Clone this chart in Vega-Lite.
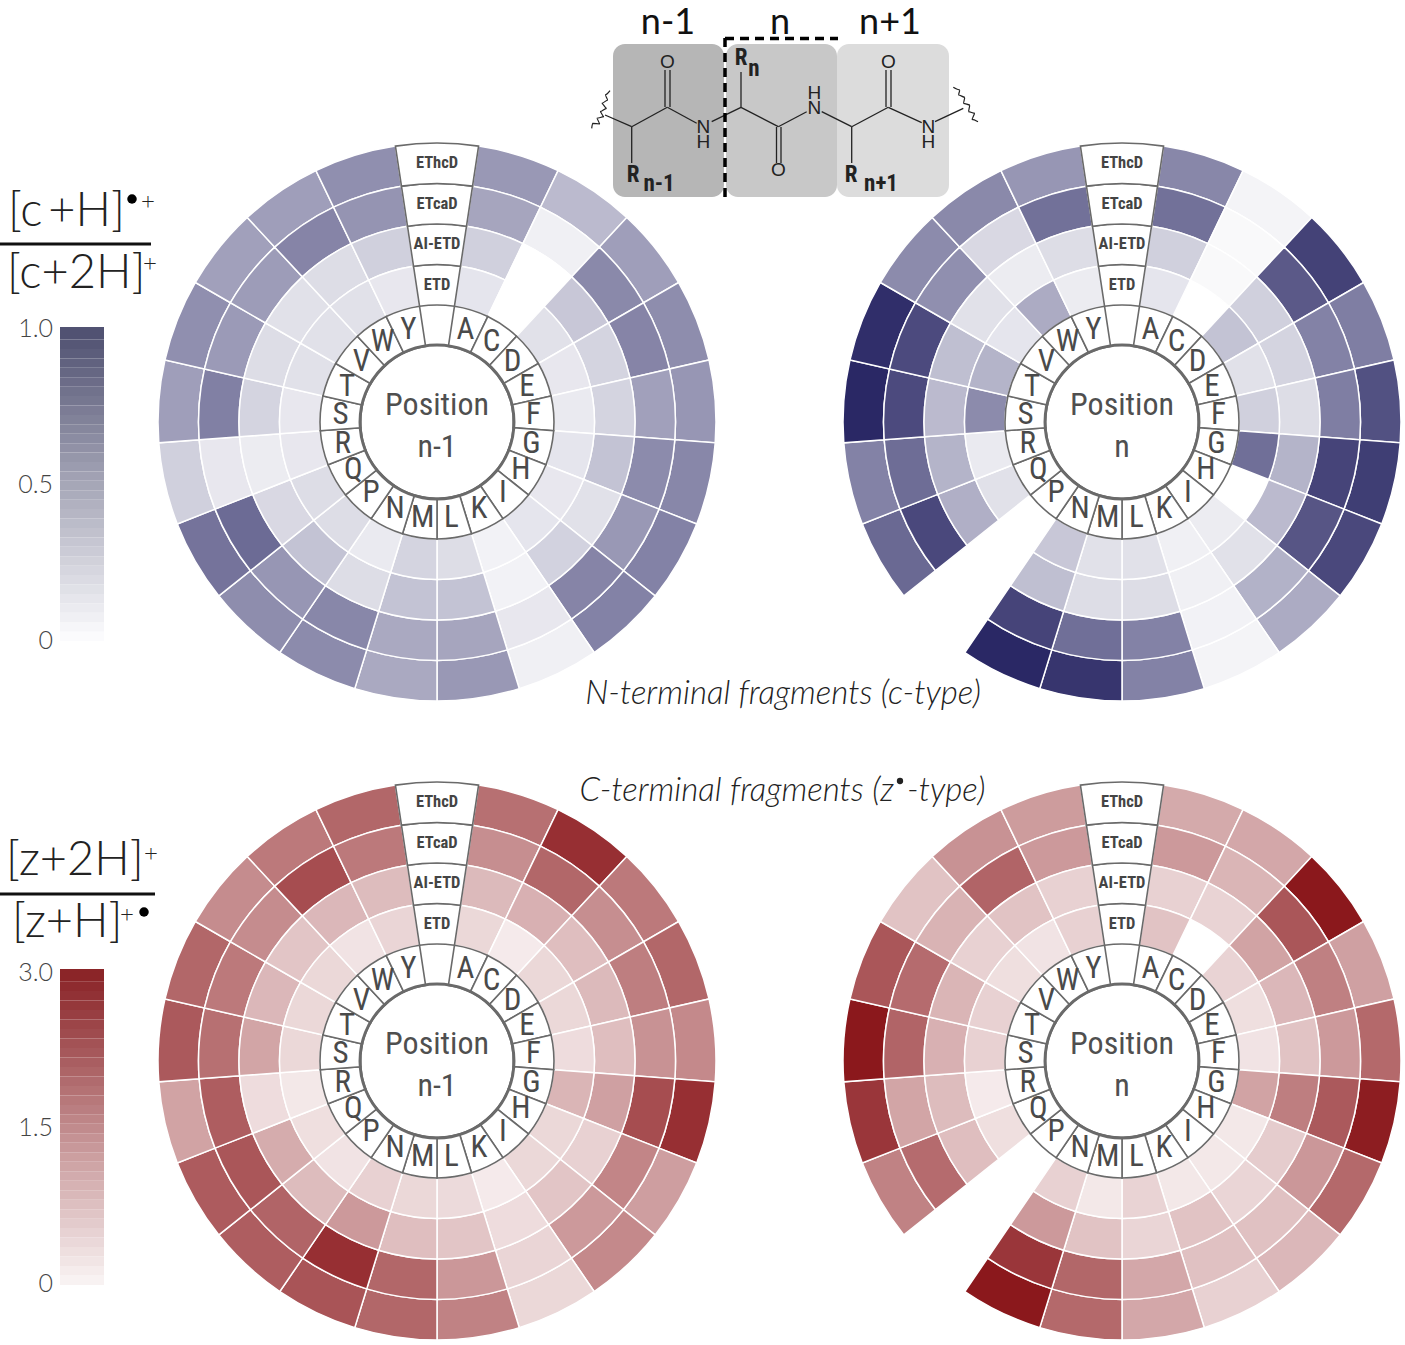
{
"$schema":"https://vega.github.io/schema/vega-lite/v6.json",
"width":1405,"height":1345,"padding":0,"autosize":"none","background":"white",
"config":{"view":{"stroke":null}},
"datasets":{
"cells":[
{"f":"c","pos":"n-1","aa":"A","ring":"EThcD","v":0.48},{"f":"c","pos":"n-1","aa":"A","ring":"ETcaD","v":0.42},{"f":"c","pos":"n-1","aa":"A","ring":"AI-ETD","v":0.22},{"f":"c","pos":"n-1","aa":"A","ring":"ETD","v":0.12},
{"f":"c","pos":"n-1","aa":"C","ring":"EThcD","v":0.32},{"f":"c","pos":"n-1","aa":"C","ring":"ETcaD","v":0.07},{"f":"c","pos":"n-1","aa":"C","ring":"AI-ETD","v":0},{"f":"c","pos":"n-1","aa":"C","ring":"ETD","v":0},
{"f":"c","pos":"n-1","aa":"D","ring":"EThcD","v":0.45},{"f":"c","pos":"n-1","aa":"D","ring":"ETcaD","v":0.55},{"f":"c","pos":"n-1","aa":"D","ring":"AI-ETD","v":0.26},{"f":"c","pos":"n-1","aa":"D","ring":"ETD","v":0.14},
{"f":"c","pos":"n-1","aa":"E","ring":"EThcD","v":0.53},{"f":"c","pos":"n-1","aa":"E","ring":"ETcaD","v":0.57},{"f":"c","pos":"n-1","aa":"E","ring":"AI-ETD","v":0.2},{"f":"c","pos":"n-1","aa":"E","ring":"ETD","v":0.11},
{"f":"c","pos":"n-1","aa":"F","ring":"EThcD","v":0.49},{"f":"c","pos":"n-1","aa":"F","ring":"ETcaD","v":0.44},{"f":"c","pos":"n-1","aa":"F","ring":"AI-ETD","v":0.2},{"f":"c","pos":"n-1","aa":"F","ring":"ETD","v":0.1},
{"f":"c","pos":"n-1","aa":"G","ring":"EThcD","v":0.56},{"f":"c","pos":"n-1","aa":"G","ring":"ETcaD","v":0.54},{"f":"c","pos":"n-1","aa":"G","ring":"AI-ETD","v":0.28},{"f":"c","pos":"n-1","aa":"G","ring":"ETD","v":0.12},
{"f":"c","pos":"n-1","aa":"H","ring":"EThcD","v":0.58},{"f":"c","pos":"n-1","aa":"H","ring":"ETcaD","v":0.48},{"f":"c","pos":"n-1","aa":"H","ring":"AI-ETD","v":0.14},{"f":"c","pos":"n-1","aa":"H","ring":"ETD","v":0.11},
{"f":"c","pos":"n-1","aa":"I","ring":"EThcD","v":0.58},{"f":"c","pos":"n-1","aa":"I","ring":"ETcaD","v":0.57},{"f":"c","pos":"n-1","aa":"I","ring":"AI-ETD","v":0.21},{"f":"c","pos":"n-1","aa":"I","ring":"ETD","v":0.12},
{"f":"c","pos":"n-1","aa":"K","ring":"EThcD","v":0.07},{"f":"c","pos":"n-1","aa":"K","ring":"ETcaD","v":0.11},{"f":"c","pos":"n-1","aa":"K","ring":"AI-ETD","v":0.06},{"f":"c","pos":"n-1","aa":"K","ring":"ETD","v":0.06},
{"f":"c","pos":"n-1","aa":"L","ring":"EThcD","v":0.48},{"f":"c","pos":"n-1","aa":"L","ring":"ETcaD","v":0.42},{"f":"c","pos":"n-1","aa":"L","ring":"AI-ETD","v":0.28},{"f":"c","pos":"n-1","aa":"L","ring":"ETD","v":0.16},
{"f":"c","pos":"n-1","aa":"M","ring":"EThcD","v":0.4},{"f":"c","pos":"n-1","aa":"M","ring":"ETcaD","v":0.4},{"f":"c","pos":"n-1","aa":"M","ring":"AI-ETD","v":0.28},{"f":"c","pos":"n-1","aa":"M","ring":"ETD","v":0.2},
{"f":"c","pos":"n-1","aa":"N","ring":"EThcD","v":0.54},{"f":"c","pos":"n-1","aa":"N","ring":"ETcaD","v":0.56},{"f":"c","pos":"n-1","aa":"N","ring":"AI-ETD","v":0.16},{"f":"c","pos":"n-1","aa":"N","ring":"ETD","v":0.1},
{"f":"c","pos":"n-1","aa":"P","ring":"EThcD","v":0.53},{"f":"c","pos":"n-1","aa":"P","ring":"ETcaD","v":0.49},{"f":"c","pos":"n-1","aa":"P","ring":"AI-ETD","v":0.28},{"f":"c","pos":"n-1","aa":"P","ring":"ETD","v":0.16},
{"f":"c","pos":"n-1","aa":"Q","ring":"EThcD","v":0.65},{"f":"c","pos":"n-1","aa":"Q","ring":"ETcaD","v":0.69},{"f":"c","pos":"n-1","aa":"Q","ring":"AI-ETD","v":0.18},{"f":"c","pos":"n-1","aa":"Q","ring":"ETD","v":0.16},
{"f":"c","pos":"n-1","aa":"R","ring":"EThcD","v":0.22},{"f":"c","pos":"n-1","aa":"R","ring":"ETcaD","v":0.11},{"f":"c","pos":"n-1","aa":"R","ring":"AI-ETD","v":0.09},{"f":"c","pos":"n-1","aa":"R","ring":"ETD","v":0.11},
{"f":"c","pos":"n-1","aa":"S","ring":"EThcD","v":0.45},{"f":"c","pos":"n-1","aa":"S","ring":"ETcaD","v":0.59},{"f":"c","pos":"n-1","aa":"S","ring":"AI-ETD","v":0.2},{"f":"c","pos":"n-1","aa":"S","ring":"ETD","v":0.11},
{"f":"c","pos":"n-1","aa":"T","ring":"EThcD","v":0.52},{"f":"c","pos":"n-1","aa":"T","ring":"ETcaD","v":0.47},{"f":"c","pos":"n-1","aa":"T","ring":"AI-ETD","v":0.16},{"f":"c","pos":"n-1","aa":"T","ring":"ETD","v":0.14},
{"f":"c","pos":"n-1","aa":"V","ring":"EThcD","v":0.44},{"f":"c","pos":"n-1","aa":"V","ring":"ETcaD","v":0.46},{"f":"c","pos":"n-1","aa":"V","ring":"AI-ETD","v":0.14},{"f":"c","pos":"n-1","aa":"V","ring":"ETD","v":0.14},
{"f":"c","pos":"n-1","aa":"W","ring":"EThcD","v":0.45},{"f":"c","pos":"n-1","aa":"W","ring":"ETcaD","v":0.57},{"f":"c","pos":"n-1","aa":"W","ring":"AI-ETD","v":0.16},{"f":"c","pos":"n-1","aa":"W","ring":"ETD","v":0.14},
{"f":"c","pos":"n-1","aa":"Y","ring":"EThcD","v":0.52},{"f":"c","pos":"n-1","aa":"Y","ring":"ETcaD","v":0.5},{"f":"c","pos":"n-1","aa":"Y","ring":"AI-ETD","v":0.22},{"f":"c","pos":"n-1","aa":"Y","ring":"ETD","v":0.11},
{"f":"c","pos":"n","aa":"A","ring":"EThcD","v":0.56},{"f":"c","pos":"n","aa":"A","ring":"ETcaD","v":0.66},{"f":"c","pos":"n","aa":"A","ring":"AI-ETD","v":0.22},{"f":"c","pos":"n","aa":"A","ring":"ETD","v":0.12},
{"f":"c","pos":"n","aa":"C","ring":"EThcD","v":0.05},{"f":"c","pos":"n","aa":"C","ring":"ETcaD","v":0.03},{"f":"c","pos":"n","aa":"C","ring":"AI-ETD","v":0.03},
{"f":"c","pos":"n","aa":"D","ring":"EThcD","v":0.88},{"f":"c","pos":"n","aa":"D","ring":"ETcaD","v":0.77},{"f":"c","pos":"n","aa":"D","ring":"AI-ETD","v":0.22},{"f":"c","pos":"n","aa":"D","ring":"ETD","v":0.28},
{"f":"c","pos":"n","aa":"E","ring":"EThcD","v":0.6},{"f":"c","pos":"n","aa":"E","ring":"ETcaD","v":0.58},{"f":"c","pos":"n","aa":"E","ring":"AI-ETD","v":0.2},{"f":"c","pos":"n","aa":"E","ring":"ETD","v":0.14},
{"f":"c","pos":"n","aa":"F","ring":"EThcD","v":0.81},{"f":"c","pos":"n","aa":"F","ring":"ETcaD","v":0.6},{"f":"c","pos":"n","aa":"F","ring":"AI-ETD","v":0.16},{"f":"c","pos":"n","aa":"F","ring":"ETD","v":0.22},
{"f":"c","pos":"n","aa":"G","ring":"EThcD","v":0.9},{"f":"c","pos":"n","aa":"G","ring":"ETcaD","v":0.87},{"f":"c","pos":"n","aa":"G","ring":"AI-ETD","v":0.35},{"f":"c","pos":"n","aa":"G","ring":"ETD","v":0.67},
{"f":"c","pos":"n","aa":"H","ring":"EThcD","v":0.85},{"f":"c","pos":"n","aa":"H","ring":"ETcaD","v":0.79},{"f":"c","pos":"n","aa":"H","ring":"AI-ETD","v":0.32},
{"f":"c","pos":"n","aa":"I","ring":"EThcD","v":0.39},{"f":"c","pos":"n","aa":"I","ring":"ETcaD","v":0.36},{"f":"c","pos":"n","aa":"I","ring":"AI-ETD","v":0.14},{"f":"c","pos":"n","aa":"I","ring":"ETD","v":0.09},
{"f":"c","pos":"n","aa":"K","ring":"EThcD","v":0.05},{"f":"c","pos":"n","aa":"K","ring":"ETcaD","v":0.06},{"f":"c","pos":"n","aa":"K","ring":"AI-ETD","v":0.07},{"f":"c","pos":"n","aa":"K","ring":"ETD","v":0.07},
{"f":"c","pos":"n","aa":"L","ring":"EThcD","v":0.58},{"f":"c","pos":"n","aa":"L","ring":"ETcaD","v":0.58},{"f":"c","pos":"n","aa":"L","ring":"AI-ETD","v":0.16},{"f":"c","pos":"n","aa":"L","ring":"ETD","v":0.14},
{"f":"c","pos":"n","aa":"M","ring":"EThcD","v":0.94},{"f":"c","pos":"n","aa":"M","ring":"ETcaD","v":0.67},{"f":"c","pos":"n","aa":"M","ring":"AI-ETD","v":0.16},{"f":"c","pos":"n","aa":"M","ring":"ETD","v":0.14},
{"f":"c","pos":"n","aa":"N","ring":"EThcD","v":1},{"f":"c","pos":"n","aa":"N","ring":"ETcaD","v":0.87},{"f":"c","pos":"n","aa":"N","ring":"AI-ETD","v":0.3},{"f":"c","pos":"n","aa":"N","ring":"ETD","v":0.26},
{"f":"c","pos":"n","aa":"Q","ring":"EThcD","v":0.7},{"f":"c","pos":"n","aa":"Q","ring":"ETcaD","v":0.85},{"f":"c","pos":"n","aa":"Q","ring":"AI-ETD","v":0.37},{"f":"c","pos":"n","aa":"Q","ring":"ETD","v":0.14},
{"f":"c","pos":"n","aa":"R","ring":"EThcD","v":0.58},{"f":"c","pos":"n","aa":"R","ring":"ETcaD","v":0.68},{"f":"c","pos":"n","aa":"R","ring":"AI-ETD","v":0.35},{"f":"c","pos":"n","aa":"R","ring":"ETD","v":0.1},
{"f":"c","pos":"n","aa":"S","ring":"EThcD","v":1},{"f":"c","pos":"n","aa":"S","ring":"ETcaD","v":0.84},{"f":"c","pos":"n","aa":"S","ring":"AI-ETD","v":0.32},{"f":"c","pos":"n","aa":"S","ring":"ETD","v":0.54},
{"f":"c","pos":"n","aa":"T","ring":"EThcD","v":0.97},{"f":"c","pos":"n","aa":"T","ring":"ETcaD","v":0.84},{"f":"c","pos":"n","aa":"T","ring":"AI-ETD","v":0.3},{"f":"c","pos":"n","aa":"T","ring":"ETD","v":0.35},
{"f":"c","pos":"n","aa":"V","ring":"EThcD","v":0.54},{"f":"c","pos":"n","aa":"V","ring":"ETcaD","v":0.52},{"f":"c","pos":"n","aa":"V","ring":"AI-ETD","v":0.14},{"f":"c","pos":"n","aa":"V","ring":"ETD","v":0.12},
{"f":"c","pos":"n","aa":"W","ring":"EThcD","v":0.55},{"f":"c","pos":"n","aa":"W","ring":"ETcaD","v":0.18},{"f":"c","pos":"n","aa":"W","ring":"AI-ETD","v":0.09},{"f":"c","pos":"n","aa":"W","ring":"ETD","v":0.39},
{"f":"c","pos":"n","aa":"Y","ring":"EThcD","v":0.49},{"f":"c","pos":"n","aa":"Y","ring":"ETcaD","v":0.66},{"f":"c","pos":"n","aa":"Y","ring":"AI-ETD","v":0.16},{"f":"c","pos":"n","aa":"Y","ring":"ETD","v":0.09},
{"f":"z","pos":"n-1","aa":"A","ring":"EThcD","v":1.86},{"f":"z","pos":"n-1","aa":"A","ring":"ETcaD","v":1.47},{"f":"z","pos":"n-1","aa":"A","ring":"AI-ETD","v":0.9},{"f":"z","pos":"n-1","aa":"A","ring":"ETD","v":0.51},
{"f":"z","pos":"n-1","aa":"C","ring":"EThcD","v":2.7},{"f":"z","pos":"n-1","aa":"C","ring":"ETcaD","v":1.98},{"f":"z","pos":"n-1","aa":"C","ring":"AI-ETD","v":1.02},{"f":"z","pos":"n-1","aa":"C","ring":"ETD","v":0.27},
{"f":"z","pos":"n-1","aa":"D","ring":"EThcD","v":1.74},{"f":"z","pos":"n-1","aa":"D","ring":"ETcaD","v":1.47},{"f":"z","pos":"n-1","aa":"D","ring":"AI-ETD","v":0.84},{"f":"z","pos":"n-1","aa":"D","ring":"ETD","v":0.51},
{"f":"z","pos":"n-1","aa":"E","ring":"EThcD","v":1.98},{"f":"z","pos":"n-1","aa":"E","ring":"ETcaD","v":1.68},{"f":"z","pos":"n-1","aa":"E","ring":"AI-ETD","v":0.9},{"f":"z","pos":"n-1","aa":"E","ring":"ETD","v":0.51},
{"f":"z","pos":"n-1","aa":"F","ring":"EThcD","v":1.53},{"f":"z","pos":"n-1","aa":"F","ring":"ETcaD","v":1.41},{"f":"z","pos":"n-1","aa":"F","ring":"AI-ETD","v":0.84},{"f":"z","pos":"n-1","aa":"F","ring":"ETD","v":0.45},
{"f":"z","pos":"n-1","aa":"G","ring":"EThcD","v":2.7},{"f":"z","pos":"n-1","aa":"G","ring":"ETcaD","v":2.31},{"f":"z","pos":"n-1","aa":"G","ring":"AI-ETD","v":1.23},{"f":"z","pos":"n-1","aa":"G","ring":"ETD","v":0.96},
{"f":"z","pos":"n-1","aa":"H","ring":"EThcD","v":1.26},{"f":"z","pos":"n-1","aa":"H","ring":"ETcaD","v":1.59},{"f":"z","pos":"n-1","aa":"H","ring":"AI-ETD","v":0.6},{"f":"z","pos":"n-1","aa":"H","ring":"ETD","v":0.51},
{"f":"z","pos":"n-1","aa":"I","ring":"EThcD","v":1.53},{"f":"z","pos":"n-1","aa":"I","ring":"ETcaD","v":1.32},{"f":"z","pos":"n-1","aa":"I","ring":"AI-ETD","v":0.75},{"f":"z","pos":"n-1","aa":"I","ring":"ETD","v":0.51},
{"f":"z","pos":"n-1","aa":"K","ring":"EThcD","v":0.51},{"f":"z","pos":"n-1","aa":"K","ring":"ETcaD","v":0.54},{"f":"z","pos":"n-1","aa":"K","ring":"AI-ETD","v":0.45},{"f":"z","pos":"n-1","aa":"K","ring":"ETD","v":0.27},
{"f":"z","pos":"n-1","aa":"L","ring":"EThcD","v":1.62},{"f":"z","pos":"n-1","aa":"L","ring":"ETcaD","v":1.35},{"f":"z","pos":"n-1","aa":"L","ring":"AI-ETD","v":0.75},{"f":"z","pos":"n-1","aa":"L","ring":"ETD","v":0.48},
{"f":"z","pos":"n-1","aa":"M","ring":"EThcD","v":1.98},{"f":"z","pos":"n-1","aa":"M","ring":"ETcaD","v":1.98},{"f":"z","pos":"n-1","aa":"M","ring":"AI-ETD","v":0.84},{"f":"z","pos":"n-1","aa":"M","ring":"ETD","v":0.51},
{"f":"z","pos":"n-1","aa":"N","ring":"EThcD","v":2.22},{"f":"z","pos":"n-1","aa":"N","ring":"ETcaD","v":2.7},{"f":"z","pos":"n-1","aa":"N","ring":"AI-ETD","v":1.32},{"f":"z","pos":"n-1","aa":"N","ring":"ETD","v":0.6},
{"f":"z","pos":"n-1","aa":"P","ring":"EThcD","v":2.1},{"f":"z","pos":"n-1","aa":"P","ring":"ETcaD","v":2.01},{"f":"z","pos":"n-1","aa":"P","ring":"AI-ETD","v":0.87},{"f":"z","pos":"n-1","aa":"P","ring":"ETD","v":0.36},
{"f":"z","pos":"n-1","aa":"Q","ring":"EThcD","v":2.13},{"f":"z","pos":"n-1","aa":"Q","ring":"ETcaD","v":2.19},{"f":"z","pos":"n-1","aa":"Q","ring":"AI-ETD","v":1.08},{"f":"z","pos":"n-1","aa":"Q","ring":"ETD","v":0.42},
{"f":"z","pos":"n-1","aa":"R","ring":"EThcD","v":1.2},{"f":"z","pos":"n-1","aa":"R","ring":"ETcaD","v":2.1},{"f":"z","pos":"n-1","aa":"R","ring":"AI-ETD","v":0.45},{"f":"z","pos":"n-1","aa":"R","ring":"ETD","v":0.3},
{"f":"z","pos":"n-1","aa":"S","ring":"EThcD","v":2.16},{"f":"z","pos":"n-1","aa":"S","ring":"ETcaD","v":1.86},{"f":"z","pos":"n-1","aa":"S","ring":"AI-ETD","v":1.17},{"f":"z","pos":"n-1","aa":"S","ring":"ETD","v":0.51},
{"f":"z","pos":"n-1","aa":"T","ring":"EThcD","v":1.98},{"f":"z","pos":"n-1","aa":"T","ring":"ETcaD","v":1.74},{"f":"z","pos":"n-1","aa":"T","ring":"AI-ETD","v":0.93},{"f":"z","pos":"n-1","aa":"T","ring":"ETD","v":0.51},
{"f":"z","pos":"n-1","aa":"V","ring":"EThcD","v":1.5},{"f":"z","pos":"n-1","aa":"V","ring":"ETcaD","v":1.5},{"f":"z","pos":"n-1","aa":"V","ring":"AI-ETD","v":0.75},{"f":"z","pos":"n-1","aa":"V","ring":"ETD","v":0.51},
{"f":"z","pos":"n-1","aa":"W","ring":"EThcD","v":1.74},{"f":"z","pos":"n-1","aa":"W","ring":"ETcaD","v":2.31},{"f":"z","pos":"n-1","aa":"W","ring":"AI-ETD","v":0.93},{"f":"z","pos":"n-1","aa":"W","ring":"ETD","v":0.36},
{"f":"z","pos":"n-1","aa":"Y","ring":"EThcD","v":1.98},{"f":"z","pos":"n-1","aa":"Y","ring":"ETcaD","v":1.74},{"f":"z","pos":"n-1","aa":"Y","ring":"AI-ETD","v":0.87},{"f":"z","pos":"n-1","aa":"Y","ring":"ETD","v":0.54},
{"f":"z","pos":"n","aa":"A","ring":"EThcD","v":1.11},{"f":"z","pos":"n","aa":"A","ring":"ETcaD","v":1.32},{"f":"z","pos":"n","aa":"A","ring":"AI-ETD","v":0.6},{"f":"z","pos":"n","aa":"A","ring":"ETD","v":0.78},
{"f":"z","pos":"n","aa":"C","ring":"EThcD","v":1.14},{"f":"z","pos":"n","aa":"C","ring":"ETcaD","v":0.96},{"f":"z","pos":"n","aa":"C","ring":"AI-ETD","v":0.57},
{"f":"z","pos":"n","aa":"D","ring":"EThcD","v":3},{"f":"z","pos":"n","aa":"D","ring":"ETcaD","v":2.19},{"f":"z","pos":"n","aa":"D","ring":"AI-ETD","v":1.2},{"f":"z","pos":"n","aa":"D","ring":"ETD","v":0.57},
{"f":"z","pos":"n","aa":"E","ring":"EThcD","v":1.23},{"f":"z","pos":"n","aa":"E","ring":"ETcaD","v":1.65},{"f":"z","pos":"n","aa":"E","ring":"AI-ETD","v":0.93},{"f":"z","pos":"n","aa":"E","ring":"ETD","v":0.42},
{"f":"z","pos":"n","aa":"F","ring":"EThcD","v":1.95},{"f":"z","pos":"n","aa":"F","ring":"ETcaD","v":1.32},{"f":"z","pos":"n","aa":"F","ring":"AI-ETD","v":0.78},{"f":"z","pos":"n","aa":"F","ring":"ETD","v":0.36},
{"f":"z","pos":"n","aa":"G","ring":"EThcD","v":2.94},{"f":"z","pos":"n","aa":"G","ring":"ETcaD","v":2.16},{"f":"z","pos":"n","aa":"G","ring":"AI-ETD","v":1.68},{"f":"z","pos":"n","aa":"G","ring":"ETD","v":1.2},
{"f":"z","pos":"n","aa":"H","ring":"EThcD","v":1.95},{"f":"z","pos":"n","aa":"H","ring":"ETcaD","v":1.35},{"f":"z","pos":"n","aa":"H","ring":"AI-ETD","v":0.66},{"f":"z","pos":"n","aa":"H","ring":"ETD","v":0.3},
{"f":"z","pos":"n","aa":"I","ring":"EThcD","v":0.93},{"f":"z","pos":"n","aa":"I","ring":"ETcaD","v":0.81},{"f":"z","pos":"n","aa":"I","ring":"AI-ETD","v":0.54},{"f":"z","pos":"n","aa":"I","ring":"ETD","v":0.3},
{"f":"z","pos":"n","aa":"K","ring":"EThcD","v":0.6},{"f":"z","pos":"n","aa":"K","ring":"ETcaD","v":0.81},{"f":"z","pos":"n","aa":"K","ring":"AI-ETD","v":0.78},{"f":"z","pos":"n","aa":"K","ring":"ETD","v":0.3},
{"f":"z","pos":"n","aa":"L","ring":"EThcD","v":1.14},{"f":"z","pos":"n","aa":"L","ring":"ETcaD","v":1.14},{"f":"z","pos":"n","aa":"L","ring":"AI-ETD","v":0.54},{"f":"z","pos":"n","aa":"L","ring":"ETD","v":0.57},
{"f":"z","pos":"n","aa":"M","ring":"EThcD","v":1.95},{"f":"z","pos":"n","aa":"M","ring":"ETcaD","v":1.98},{"f":"z","pos":"n","aa":"M","ring":"AI-ETD","v":0.78},{"f":"z","pos":"n","aa":"M","ring":"ETD","v":0.3},
{"f":"z","pos":"n","aa":"N","ring":"EThcD","v":3},{"f":"z","pos":"n","aa":"N","ring":"ETcaD","v":2.61},{"f":"z","pos":"n","aa":"N","ring":"AI-ETD","v":1.32},{"f":"z","pos":"n","aa":"N","ring":"ETD","v":0.6},
{"f":"z","pos":"n","aa":"Q","ring":"EThcD","v":1.62},{"f":"z","pos":"n","aa":"Q","ring":"ETcaD","v":1.92},{"f":"z","pos":"n","aa":"Q","ring":"AI-ETD","v":0.84},{"f":"z","pos":"n","aa":"Q","ring":"ETD","v":0.42},
{"f":"z","pos":"n","aa":"R","ring":"EThcD","v":2.61},{"f":"z","pos":"n","aa":"R","ring":"ETcaD","v":1.17},{"f":"z","pos":"n","aa":"R","ring":"AI-ETD","v":0.87},{"f":"z","pos":"n","aa":"R","ring":"ETD","v":0.27},
{"f":"z","pos":"n","aa":"S","ring":"EThcD","v":3},{"f":"z","pos":"n","aa":"S","ring":"ETcaD","v":2.01},{"f":"z","pos":"n","aa":"S","ring":"AI-ETD","v":1.02},{"f":"z","pos":"n","aa":"S","ring":"ETD","v":0.6},
{"f":"z","pos":"n","aa":"T","ring":"EThcD","v":2.19},{"f":"z","pos":"n","aa":"T","ring":"ETcaD","v":1.92},{"f":"z","pos":"n","aa":"T","ring":"AI-ETD","v":0.96},{"f":"z","pos":"n","aa":"T","ring":"ETD","v":0.6},
{"f":"z","pos":"n","aa":"V","ring":"EThcD","v":0.78},{"f":"z","pos":"n","aa":"V","ring":"ETcaD","v":0.99},{"f":"z","pos":"n","aa":"V","ring":"AI-ETD","v":0.6},{"f":"z","pos":"n","aa":"V","ring":"ETD","v":0.42},
{"f":"z","pos":"n","aa":"W","ring":"EThcD","v":1.41},{"f":"z","pos":"n","aa":"W","ring":"ETcaD","v":2.01},{"f":"z","pos":"n","aa":"W","ring":"AI-ETD","v":0.78},{"f":"z","pos":"n","aa":"W","ring":"ETD","v":0.36},
{"f":"z","pos":"n","aa":"Y","ring":"EThcD","v":1.29},{"f":"z","pos":"n","aa":"Y","ring":"ETcaD","v":1.32},{"f":"z","pos":"n","aa":"Y","ring":"AI-ETD","v":0.6},{"f":"z","pos":"n","aa":"Y","ring":"ETD","v":0.6}
],
"panels":[
{"f":"c","pos":"n-1","title":"Position\nn-1","aas":["A","C","D","E","F","G","H","I","K","L","M","N","P","Q","R","S","T","V","W","Y"],"rings":["ETD","AI-ETD","ETcaD","EThcD"]},
{"f":"c","pos":"n","title":"Position\nn","aas":["A","C","D","E","F","G","H","I","K","L","M","N","P","Q","R","S","T","V","W","Y"],"rings":["ETD","AI-ETD","ETcaD","EThcD"]},
{"f":"z","pos":"n-1","title":"Position\nn-1","aas":["A","C","D","E","F","G","H","I","K","L","M","N","P","Q","R","S","T","V","W","Y"],"rings":["ETD","AI-ETD","ETcaD","EThcD"]},
{"f":"z","pos":"n","title":"Position\nn","aas":["A","C","D","E","F","G","H","I","K","L","M","N","P","Q","R","S","T","V","W","Y"],"rings":["ETD","AI-ETD","ETcaD","EThcD"]}
],
"barC":[{"lo":0,"hi":0.03},{"lo":0.03,"hi":0.06},{"lo":0.06,"hi":0.09},{"lo":0.09,"hi":0.12},{"lo":0.12,"hi":0.15},{"lo":0.15,"hi":0.18},{"lo":0.18,"hi":0.21},{"lo":0.21,"hi":0.24},{"lo":0.24,"hi":0.27},{"lo":0.27,"hi":0.3},{"lo":0.3,"hi":0.33},{"lo":0.33,"hi":0.36},{"lo":0.36,"hi":0.39},{"lo":0.39,"hi":0.42},{"lo":0.42,"hi":0.45},{"lo":0.45,"hi":0.48},{"lo":0.48,"hi":0.51},{"lo":0.51,"hi":0.54},{"lo":0.54,"hi":0.57},{"lo":0.57,"hi":0.6},{"lo":0.6,"hi":0.63},{"lo":0.63,"hi":0.66},{"lo":0.66,"hi":0.69},{"lo":0.69,"hi":0.72},{"lo":0.72,"hi":0.75},{"lo":0.75,"hi":0.78},{"lo":0.78,"hi":0.81},{"lo":0.81,"hi":0.84},{"lo":0.84,"hi":0.87},{"lo":0.87,"hi":0.9},{"lo":0.9,"hi":0.93},{"lo":0.93,"hi":0.96},{"lo":0.96,"hi":1}],
"barZ":[{"lo":0,"hi":0.09},{"lo":0.09,"hi":0.18},{"lo":0.18,"hi":0.27},{"lo":0.27,"hi":0.36},{"lo":0.36,"hi":0.45},{"lo":0.45,"hi":0.54},{"lo":0.54,"hi":0.63},{"lo":0.63,"hi":0.72},{"lo":0.72,"hi":0.81},{"lo":0.81,"hi":0.9},{"lo":0.9,"hi":0.99},{"lo":0.99,"hi":1.08},{"lo":1.08,"hi":1.17},{"lo":1.17,"hi":1.26},{"lo":1.26,"hi":1.35},{"lo":1.35,"hi":1.44},{"lo":1.44,"hi":1.53},{"lo":1.53,"hi":1.62},{"lo":1.62,"hi":1.71},{"lo":1.71,"hi":1.8},{"lo":1.8,"hi":1.89},{"lo":1.89,"hi":1.98},{"lo":1.98,"hi":2.07},{"lo":2.07,"hi":2.16},{"lo":2.16,"hi":2.25},{"lo":2.25,"hi":2.34},{"lo":2.34,"hi":2.43},{"lo":2.43,"hi":2.52},{"lo":2.52,"hi":2.61},{"lo":2.61,"hi":2.7},{"lo":2.7,"hi":2.79},{"lo":2.79,"hi":2.88},{"lo":2.88,"hi":3}],
"boxes":[{"a":613,"b":724,"t":44,"u":197,"c":"n-1"},{"a":726,"b":837,"t":44,"u":197,"c":"n"},{"a":837,"b":949,"t":44,"u":197,"c":"n+1"}],
"bonds":[
{"a":605,"t":115,"b":631.7,"u":126.7},{"a":631.7,"t":126.7,"b":667.3,"u":107.3},{"a":667.3,"t":107.3,"b":696.7,"u":123.3},
{"a":711.7,"t":121.7,"b":741,"u":107.3},{"a":741,"t":107.3,"b":778.3,"u":126.7},{"a":778.3,"t":126.7,"b":806.7,"u":111.7},
{"a":821.7,"t":111.7,"b":851.7,"u":126.7},{"a":851.7,"t":126.7,"b":888.3,"u":107.3},{"a":888.3,"t":107.3,"b":921.7,"u":122.7},
{"a":935,"t":121.7,"b":963.3,"u":108.3},
{"a":631.7,"t":126.7,"b":631.7,"u":163},{"a":741,"t":107.3,"b":741,"u":72},{"a":851.7,"t":126.7,"b":851.7,"u":163},
{"a":665,"t":107,"b":665,"u":70},{"a":670,"t":107,"b":670,"u":70},
{"a":776.5,"t":127,"b":776.5,"u":163},{"a":781,"t":127,"b":781,"u":163},
{"a":886,"t":107,"b":886,"u":70},{"a":891,"t":107,"b":891,"u":70}
],
"dash":[{"a":725,"t":38,"b":725,"u":197},{"a":725,"t":38.5,"b":838,"u":38.5}],
"fracBars":[{"a":0,"t":244,"b":151,"u":244},{"a":0,"t":894,"b":155,"u":894}],
"wavy":[
{"w":"l","o":1,"a":610,"t":90.7},{"w":"l","o":2,"a":605,"t":95},{"w":"l","o":3,"a":608,"t":100},{"w":"l","o":4,"a":601.7,"t":103.3},{"w":"l","o":5,"a":606.7,"t":108.3},{"w":"l","o":6,"a":600,"t":111.7},{"w":"l","o":7,"a":604,"t":116.7},{"w":"l","o":8,"a":596.7,"t":118.3},{"w":"l","o":9,"a":600,"t":124},{"w":"l","o":10,"a":592.7,"t":123.3},{"w":"l","o":11,"a":591.7,"t":128.3},
{"w":"r","o":1,"a":953.3,"t":87.3},{"w":"r","o":2,"a":960,"t":90},{"w":"r","o":3,"a":958.3,"t":95},{"w":"r","o":4,"a":965,"t":97.3},{"w":"r","o":5,"a":963.3,"t":103.3},{"w":"r","o":6,"a":970,"t":105},{"w":"r","o":7,"a":968.3,"t":111.7},{"w":"r","o":8,"a":975,"t":113.3},{"w":"r","o":9,"a":971.7,"t":119.3},{"w":"r","o":10,"a":978,"t":121.7}
],
"atoms":[
{"a":703.3,"t":127,"s":"N\nH"},{"a":814.3,"t":93,"s":"H\nN"},{"a":928.3,"t":127,"s":"N\nH"},
{"a":667.3,"t":62,"s":"O"},{"a":778.3,"t":170,"s":"O"},{"a":888.3,"t":62,"s":"O"}
],
"rgroups":[
{"a":633,"t":175,"s":"R"},{"a":659,"t":184,"s":"n-1"},{"a":741,"t":58,"s":"R"},{"a":754,"t":69,"s":"n"},{"a":851,"t":175,"s":"R"},{"a":881,"t":184,"s":"n+1"}
],
"residues":[{"s":"n-1","a":668,"t":23},{"s":"n","a":780,"t":23},{"s":"n+1","a":890,"t":23}],
"big":[
{"a":8,"t":226,"s":"[c\u2009+H]"},{"a":7,"t":288,"s":"[c+2H]"},
{"a":6,"t":875,"s":"[z+2H]"},{"a":12,"t":937,"s":"[z+H]"}
],
"sup":[
{"a":148,"t":202,"s":"+"},{"a":150,"t":264,"s":"+"},{"a":151,"t":854,"s":"+"},{"a":127,"t":915,"s":"+"}
],
"dots":[{"a":132,"t":199},{"a":144,"t":912}],
"capDot":[{"a":900,"t":781}],
"ticks":[
{"a":53,"t":329,"s":"1.0"},{"a":53,"t":485,"s":"0.5"},{"a":53,"t":641,"s":"0"},
{"a":53,"t":973,"s":"3.0"},{"a":53,"t":1128,"s":"1.5"},{"a":53,"t":1284,"s":"0"}
],
"capN":[{"a":783,"t":694,"s":"N-terminal fragments (c-type)"}],
"capZl":[{"a":894,"t":791,"s":"C-terminal fragments (z"}],
"capZr":[{"a":907,"t":791,"s":"-type)"}]
},
"resolve":{"scale":{"x":"independent","y":"independent","color":"independent"}},
"layer":[
{"encoding":{
  "x":{"field":"pos","type":"nominal","scale":{"type":"point","domain":["n-1","n"],"range":[437,1122],"padding":0},"axis":null},
  "y":{"field":"f","type":"nominal","scale":{"type":"point","domain":["c","z"],"range":[422,1061],"padding":0},"axis":null}
 },
 "resolve":{"scale":{"color":"independent"}},
 "layer":[
 {"data":{"name":"cells"},"transform":[{"filter":"datum.f==='c'"}],
  "mark":{"type":"arc","stroke":"white","strokeWidth":1.5},
  "encoding":{
   "theta":{"field":"aa","type":"nominal","scale":{"type":"band","domain":["label","A","C","D","E","F","G","H","I","K","L","M","N","P","Q","R","S","T","V","W","Y"],"range":[-0.1496,6.1336],"padding":0}},
   "radius":{"field":"ring","type":"nominal","scale":{"type":"band","domain":["inner","res","ETD","AI-ETD","ETcaD","EThcD"],"range":[36,279],"padding":0}},
   "color":{"field":"v","type":"quantitative","scale":{"domain":[0,1],"range":["#ffffff","#2a2865"],"interpolate":"rgb"},"legend":null}
  }},
 {"data":{"name":"cells"},"transform":[{"filter":"datum.f==='z'"}],
  "mark":{"type":"arc","stroke":"white","strokeWidth":1.5},
  "encoding":{
   "theta":{"field":"aa","type":"nominal"},
   "radius":{"field":"ring","type":"nominal"},
   "color":{"field":"v","type":"quantitative","scale":{"domain":[0,3],"range":["#ffffff","#8b181c"],"interpolate":"rgb"},"legend":null}
  }},
 {"data":{"name":"panels"},"transform":[{"flatten":["aas"]}],
  "mark":{"type":"arc","fill":"white","stroke":"#6a6a6a","strokeWidth":1.6},
  "encoding":{"theta":{"field":"aas","type":"nominal"},"radius":{"datum":"res","type":"nominal"}}},
 {"data":{"name":"panels"},"transform":[{"flatten":["rings"]}],
  "mark":{"type":"arc","fill":"white","stroke":"#6a6a6a","strokeWidth":1.6},
  "encoding":{"theta":{"datum":"label","type":"nominal"},"radius":{"field":"rings","type":"nominal"}}},
 {"data":{"name":"panels"},
  "mark":{"type":"point","filled":false,"stroke":"#6a6a6a","strokeWidth":3,"size":23700,"opacity":1}},
 {"data":{"name":"panels"},"transform":[{"flatten":["aas"]}],
  "mark":{"type":"text","font":"'Roboto Condensed','DejaVu Sans Condensed','Open Sans Condensed','Liberation Sans',sans-serif","fontSize":31,"fill":"#4a4a4a","baseline":"middle","align":"center"},
  "encoding":{"theta":{"field":"aas","type":"nominal"},"radius":{"datum":"res","type":"nominal"},"text":{"field":"aas","type":"nominal"}}},
 {"data":{"name":"panels"},"transform":[{"flatten":["rings"]}],
  "mark":{"type":"text","font":"'Roboto Condensed','DejaVu Sans Condensed','Open Sans Condensed','Liberation Sans',sans-serif","fontWeight":"bold","fontSize":16.5,"fill":"#444","baseline":"middle","align":"center"},
  "encoding":{"theta":{"datum":"label","type":"nominal"},"radius":{"field":"rings","type":"nominal"},"text":{"field":"rings","type":"nominal"}}},
 {"data":{"name":"panels"},
  "mark":{"type":"text","font":"'Roboto Condensed','DejaVu Sans Condensed','Open Sans Condensed','Liberation Sans',sans-serif","fontSize":32,"fill":"#4f4f4f","baseline":"middle","align":"center","lineBreak":"\n","lineHeight":42,"dy":-17},
  "encoding":{"text":{"field":"title","type":"nominal"}}}
 ]},
{"data":{"name":"barC"},
 "mark":{"type":"rect"},
 "encoding":{
  "x":{"datum":60,"type":"quantitative","scale":{"domain":[0,1405],"range":[0,1405]},"axis":null},
  "x2":{"datum":104},
  "y":{"field":"lo","type":"quantitative","scale":{"domain":[0,1],"range":[641,327]},"axis":null},
  "y2":{"field":"hi"},
  "color":{"field":"lo","type":"quantitative","scale":{"domain":[0,1],"range":["#fbfbfd","#4a4b6c"],"interpolate":"rgb"},"legend":null}
 }},
{"data":{"name":"barZ"},
 "mark":{"type":"rect"},
 "encoding":{
  "x":{"datum":60,"type":"quantitative","scale":{"domain":[0,1405],"range":[0,1405]},"axis":null},
  "x2":{"datum":104},
  "y":{"field":"lo","type":"quantitative","scale":{"domain":[0,3],"range":[1285,969]},"axis":null},
  "y2":{"field":"hi"},
  "color":{"field":"lo","type":"quantitative","scale":{"domain":[0,3],"range":["#f8f2f2","#861c20"],"interpolate":"rgb"},"legend":null}
 }},
{"encoding":{
  "x":{"field":"a","type":"quantitative","scale":{"domain":[0,1405],"range":[0,1405],"nice":false,"zero":false},"axis":null},
  "y":{"field":"t","type":"quantitative","scale":{"domain":[0,1345],"range":[0,1345],"nice":false,"zero":false},"axis":null}
 },
 "layer":[
 {"data":{"name":"boxes"},"mark":{"type":"rect","cornerRadius":12},
  "encoding":{"x2":{"field":"b"},"y2":{"field":"u"},
   "fill":{"field":"c","type":"nominal","scale":{"domain":["n-1","n","n+1"],"range":["#b6b6b6","#c8c8c8","#dcdcdc"]},"legend":null}}},
 {"data":{"name":"bonds"},"mark":{"type":"rule","stroke":"#222","strokeWidth":1.3},
  "encoding":{"x2":{"field":"b"},"y2":{"field":"u"}}},
 {"data":{"name":"wavy"},"mark":{"type":"line","stroke":"#222","strokeWidth":1.2,"interpolate":"monotone"},
  "encoding":{"detail":{"field":"w"},"order":{"field":"o","type":"quantitative"}}},
 {"data":{"name":"dash"},"mark":{"type":"rule","stroke":"black","strokeWidth":3.5,"strokeDash":[9,6]},
  "encoding":{"x2":{"field":"b"},"y2":{"field":"u"}}},
 {"data":{"name":"fracBars"},"mark":{"type":"rule","stroke":"#111","strokeWidth":3},
  "encoding":{"x2":{"field":"b"},"y2":{"field":"u"}}},
 {"data":{"name":"atoms"},"mark":{"type":"text","font":"Liberation Sans","fontSize":19,"fill":"#222","baseline":"middle","align":"center","lineBreak":"\n","lineHeight":15},
  "encoding":{"text":{"field":"s"}}},
 {"data":{"name":"rgroups"},"mark":{"type":"text","font":"'Roboto Condensed','DejaVu Sans Condensed','Liberation Sans',sans-serif","fontWeight":"bold","fontSize":23,"fill":"#222","baseline":"middle","align":"center"},
  "encoding":{"text":{"field":"s"}}},
 {"data":{"name":"residues"},"mark":{"type":"text","font":"Lato","fontSize":36,"fill":"#111","baseline":"middle","align":"center"},
  "encoding":{"text":{"field":"s"}}},
 {"data":{"name":"big"},"mark":{"type":"text","font":"Lato","fontWeight":300,"fontSize":47,"fill":"#222","baseline":"alphabetic","align":"left"},
  "encoding":{"text":{"field":"s"}}},
 {"data":{"name":"sup"},"mark":{"type":"text","font":"Lato","fontWeight":300,"fontSize":24,"fill":"#222","baseline":"middle","align":"center"},
  "encoding":{"text":{"field":"s"}}},
 {"data":{"name":"dots"},"mark":{"type":"point","filled":true,"fill":"black","size":90,"opacity":1}},
 {"data":{"name":"capDot"},"mark":{"type":"point","filled":true,"fill":"#222","size":40,"opacity":1}},
 {"data":{"name":"ticks"},"mark":{"type":"text","font":"Lato","fontWeight":300,"fontSize":25,"fill":"#444","baseline":"middle","align":"right"},
  "encoding":{"text":{"field":"s"}}},
 {"data":{"name":"capN"},"mark":{"type":"text","font":"Lato","fontWeight":300,"fontStyle":"italic","fontSize":33,"fill":"#222","baseline":"middle","align":"center"},
  "encoding":{"text":{"field":"s"}}},
 {"data":{"name":"capZl"},"mark":{"type":"text","font":"Lato","fontWeight":300,"fontStyle":"italic","fontSize":33,"fill":"#222","baseline":"middle","align":"right"},
  "encoding":{"text":{"field":"s"}}},
 {"data":{"name":"capZr"},"mark":{"type":"text","font":"Lato","fontWeight":300,"fontStyle":"italic","fontSize":33,"fill":"#222","baseline":"middle","align":"left"},
  "encoding":{"text":{"field":"s"}}}
 ]}
]
}
